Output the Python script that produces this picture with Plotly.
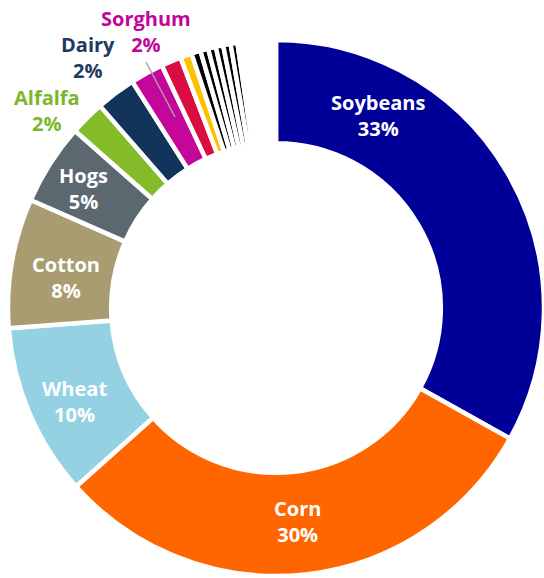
import plotly.graph_objects as go

# ---- data ----
labels = ["Soybeans", "Corn", "Wheat", "Cotton", "Hogs", "Alfalfa", "Dairy", "Sorghum",
          "Other 1", "Other 2", "Other 3", "Other 4", "Other 5", "Other 6", "Other 7",
          "Other 8", "All other"]
values = [33.1, 30.3, 10.4, 7.8, 4.9, 2.1, 2.4, 2.0,
          1.2, 0.7, 0.55, 0.48, 0.46, 0.45, 0.45, 0.41, 2.3]
pct_text = ["33%", "30%", "10%", "8%", "5%", "2%", "2%", "2%"]

# ---- styles ----
colors = ["#000099", "#FF6600", "#93D1E3", "#A99C70", "#5B6870", "#84BB29", "#13345A", "#C4069B",
          "#D90D3F", "#FFC000", "#000000", "#000000", "#000000", "#000000", "#000000", "#000000",
          "#FFFFFF"]
W, H = 544, 578
inside_pos = [(378, 115), (297, 521), (74, 401), (66, 277), (83, 188)]
outside_pos = [(47, 111), (88, 58), (146, 31)]
outside_colors = ["#7AB72A", "#1F3A5F", "#C0069A"]

fig = go.Figure(go.Pie(
    labels=labels, values=values, sort=False, direction="clockwise", rotation=0,
    hole=0.615, textinfo="none", hoverinfo="label+percent",
    marker=dict(colors=colors, line=dict(color="white", width=4.5)),
    domain=dict(x=[8 / W, 1], y=[2 / H, 538 / H]),
    showlegend=False,
))

def px(x, y):
    return x / W, 1 - y / H

annotations = []
for i, (x, y) in enumerate(inside_pos):
    xp, yp = px(x, y)
    annotations.append(dict(x=xp, y=yp, xref="paper", yref="paper", showarrow=False,
                            xanchor="center", yanchor="middle",
                            text=f"{labels[i]}<br>{pct_text[i]}", align="center",
                            font=dict(family="Open Sans", size=20, color="white", weight="bold")))
for j, (x, y) in enumerate(outside_pos):
    i = 5 + j
    xp, yp = px(x, y)
    annotations.append(dict(x=xp, y=yp, xref="paper", yref="paper", showarrow=False,
                            xanchor="center", yanchor="middle",
                            text=f"{labels[i]}<br>{pct_text[i]}", align="center",
                            font=dict(family="Open Sans", size=20, color=outside_colors[j], weight="bold")))

x0, y0 = px(146, 62)
x1, y1 = px(175, 117)
fig.update_layout(
    width=W, height=H, autosize=False,
    margin=dict(l=0, r=0, t=0, b=0),
    paper_bgcolor="white", plot_bgcolor="white",
    annotations=annotations,
    shapes=[dict(type="line", xref="paper", yref="paper", x0=x0, y0=y0, x1=x1, y1=y1,
                 line=dict(color="#A6A6A6", width=1.5))],
)
fig.write_html("out.html", config={"displayModeBar": False},
               post_script="document.body.style.margin='0';document.body.style.overflow='hidden';")
